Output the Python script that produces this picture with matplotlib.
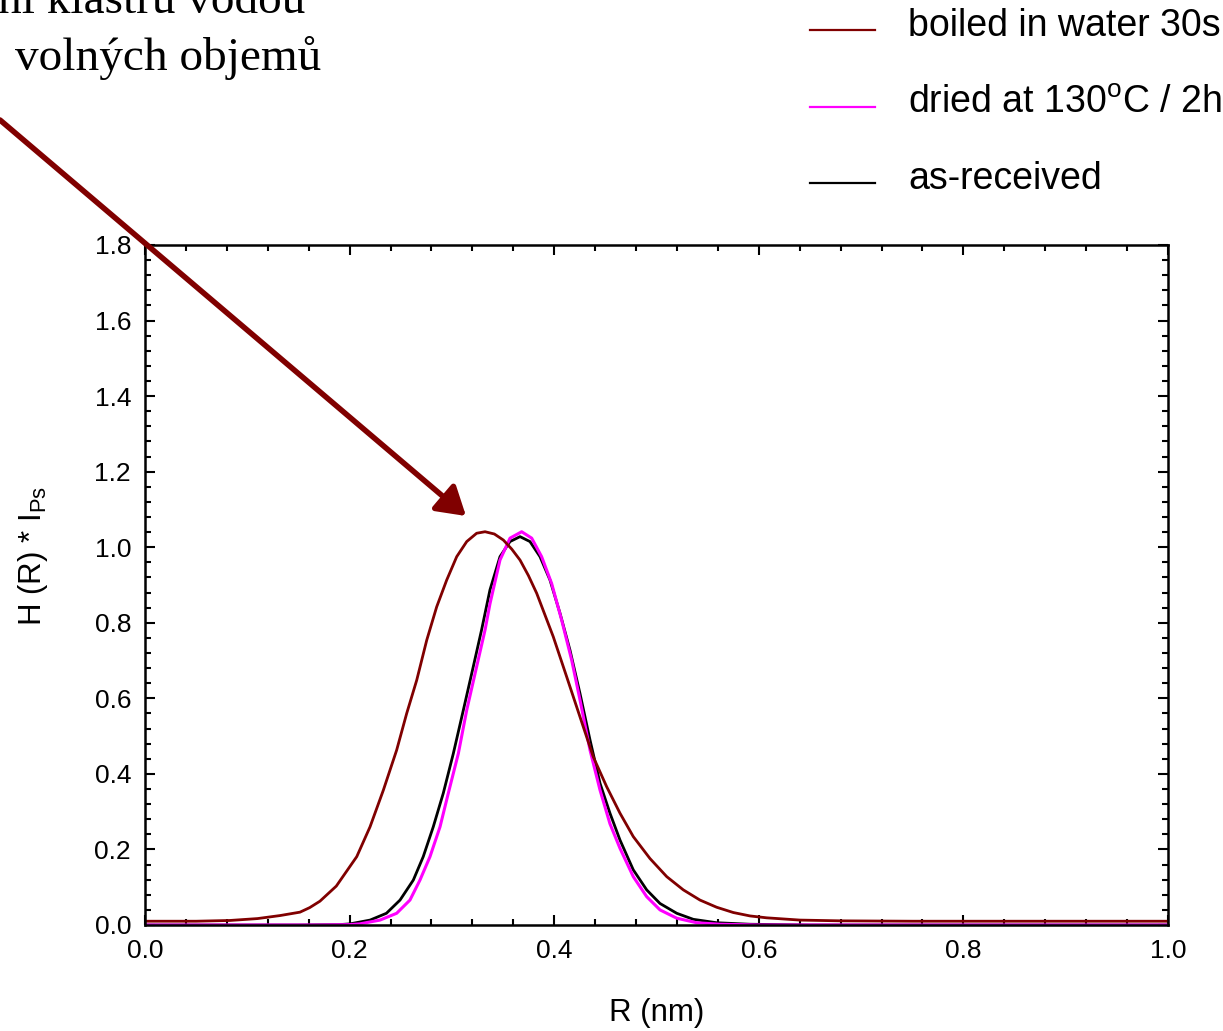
import matplotlib
matplotlib.use("Agg")
import matplotlib.pyplot as plt
from matplotlib.lines import Line2D
from matplotlib.patches import FancyArrowPatch
from matplotlib.ticker import MultipleLocator

plt.rcParams['font.family'] = ['Liberation Sans', 'DejaVu Sans']

# ---- data ----
labels = ["boiled in water 30s", "dried at 130$^{\\mathregular{o}}$C / 2h", "as-received"]
colors = ["#800000", "#ff00ff", "#000000"]

r_boiled = [0.0, 0.05, 0.083, 0.110, 0.132, 0.1515, 0.161, 0.171, 0.187, 0.207, 0.220,
            0.233, 0.246, 0.2558, 0.2656, 0.2754, 0.2851, 0.2949, 0.3047, 0.3145, 0.3242,
            0.3324, 0.3415, 0.3503, 0.3585, 0.3666, 0.3748, 0.3829, 0.3991, 0.4122, 0.4252,
            0.4382, 0.4513, 0.4643, 0.4773, 0.4936, 0.510, 0.5262, 0.5425, 0.5588, 0.5751,
            0.5914, 0.6077, 0.6403, 0.68, 0.75, 0.85, 1.0]
h_boiled = [0.010, 0.010, 0.012, 0.017, 0.025, 0.034, 0.046, 0.063, 0.103, 0.181, 0.260,
            0.357, 0.463, 0.560, 0.648, 0.754, 0.842, 0.913, 0.975, 1.015, 1.037,
            1.041, 1.035, 1.019, 0.995, 0.966, 0.925, 0.878, 0.763, 0.657, 0.551,
            0.445, 0.366, 0.296, 0.234, 0.176, 0.128, 0.093, 0.066, 0.047, 0.033,
            0.024, 0.019, 0.013, 0.011, 0.010, 0.010, 0.010]

r_dried = [0.0, 0.17, 0.20, 0.210, 0.2297, 0.246, 0.259, 0.2688, 0.2786, 0.2884, 0.2965,
           0.3063, 0.3145, 0.3242, 0.3324, 0.3372, 0.347, 0.3568, 0.3682, 0.378, 0.3877,
           0.3975, 0.4073, 0.4171, 0.4252, 0.435, 0.4448, 0.4545, 0.4643, 0.4773, 0.4904,
           0.5034, 0.5198, 0.5392, 0.562, 0.60, 1.0]
h_dried = [0.0, 0.0, 0.001, 0.003, 0.013, 0.031, 0.066, 0.119, 0.181, 0.260, 0.349,
           0.454, 0.569, 0.684, 0.781, 0.850, 0.966, 1.024, 1.041, 1.024, 0.975,
           0.904, 0.807, 0.701, 0.596, 0.463, 0.357, 0.268, 0.203, 0.128, 0.075,
           0.040, 0.018, 0.006, 0.002, 0.0, 0.0]

r_asrec = [0.0, 0.15, 0.19, 0.2004, 0.220, 0.236, 0.2493, 0.2623, 0.272, 0.2818, 0.2916,
           0.3014, 0.3112, 0.3209, 0.329, 0.3372, 0.347, 0.3568, 0.3666, 0.3763, 0.3861,
           0.3959, 0.4057, 0.4154, 0.4252, 0.435, 0.4448, 0.4545, 0.4643, 0.4773, 0.4904,
           0.5034, 0.5198, 0.536, 0.5588, 0.5914, 0.65, 1.0]
h_asrec = [0.0, 0.0, 0.001, 0.003, 0.013, 0.031, 0.066, 0.119, 0.181, 0.260, 0.349,
           0.454, 0.569, 0.684, 0.781, 0.887, 0.975, 1.015, 1.028, 1.015, 0.975,
           0.913, 0.825, 0.728, 0.613, 0.490, 0.375, 0.296, 0.225, 0.146, 0.093,
           0.057, 0.031, 0.015, 0.006, 0.002, 0.0, 0.0]

x_ticks = [0.0, 0.2, 0.4, 0.6, 0.8, 1.0]
y_ticks = [0.0, 0.2, 0.4, 0.6, 0.8, 1.0, 1.2, 1.4, 1.6, 1.8]

W, H = 1223, 1031
fig = plt.figure(figsize=(W / 100, H / 100), dpi=100)
ax = fig.add_axes([145 / W, 1 - 925 / H, (1168 - 145) / W, (925 - 245) / H])

series = [(r_boiled, h_boiled), (r_dried, h_dried), (r_asrec, h_asrec)]
lws = [2.0, 2.2, 2.0]
for (r, h), c, lw in zip(series[::-1], colors[::-1], lws[::-1]):
    ax.plot(r, h, color=c, lw=lw, solid_joinstyle='round', solid_capstyle='butt')

ax.set_xlim(0, 1.0)
ax.set_ylim(0, 1.8)
ax.set_xticks(x_ticks)
ax.set_yticks(y_ticks)
ax.set_xticklabels([f"{v:.1f}" for v in x_ticks])
ax.set_yticklabels([f"{v:.1f}" for v in y_ticks])
ax.xaxis.set_minor_locator(MultipleLocator(0.04))
ax.yaxis.set_minor_locator(MultipleLocator(0.04))
ax.tick_params(which='both', direction='in', top=True, right=True, labelsize=19, width=1.5)
ax.tick_params(which='major', length=7, pad=10)
ax.tick_params(which='minor', length=4)
for s in ax.spines.values():
    s.set_linewidth(1.8)

ax.set_xlabel("R (nm)", fontsize=22.5)
ax.xaxis.set_label_coords(0.5, -0.108)
ax.set_ylabel("H (R) * I$_{\\mathregular{Ps}}$", fontsize=22.5)
ax.yaxis.set_label_coords(-0.093, 0.543)

# legend drawn at the top right
rows_y = [30, 107, 183]
for lab, c, yy in zip(labels, colors, rows_y):
    fig.add_artist(Line2D([810 / W, 875 / W], [1 - yy / H, 1 - yy / H], color=c, lw=1.6,
                          transform=fig.transFigure))
    fig.text(908 / W, 1 - (yy + 6) / H, lab, fontsize=27, va='baseline', ha='left')

# annotation text (top-left) and arrow
fig.text(305 / W, 1 - 13 / H, "ení klastru vodou", fontsize=34,
         family=['Liberation Serif'], ha='right', va='baseline')
fig.text(15 / W, 1 - 70 / H, "volných objemů", fontsize=34,
         family=['Liberation Serif'], ha='left', va='baseline')
arrow = FancyArrowPatch((0 / W, 1 - 120 / H), (466 / W, 1 - 516 / H),
                        transform=fig.transFigure,
                        arrowstyle='-|>,head_length=0.65,head_width=0.4',
                        mutation_scale=26, lw=4, color='#800000',
                        shrinkA=0, shrinkB=0)
fig.add_artist(arrow)

fig.savefig("out.png", dpi=100)
